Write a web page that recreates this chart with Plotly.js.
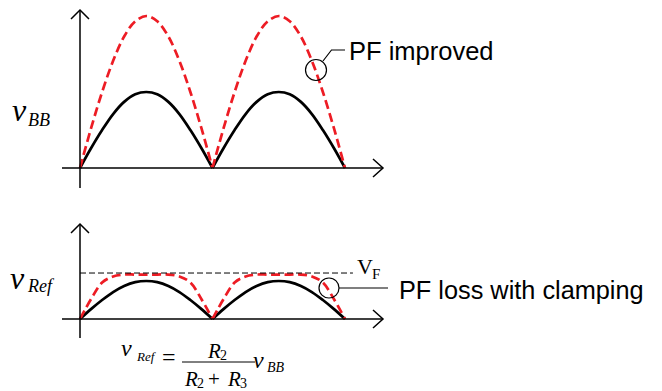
<!DOCTYPE html>
<html>
<head>
<meta charset="utf-8">
<script src="https://cdn.plot.ly/plotly-3.0.1.min.js"></script>
<style>html,body{margin:0;padding:0;background:#fff;}#chart{width:662px;height:391px;}</style>
</head>
<body>
<div id="chart"></div>
<script>
// ---- data ----
// time axis: one unit = one half-period (rectified arch)
const timePts = [0, 0.083, 0.167, 0.25, 0.333, 0.417, 0.5, 0.583, 0.667, 0.75, 0.833, 0.917, 1.0,
                 1.083, 1.167, 1.25, 1.333, 1.417, 1.5, 1.583, 1.667, 1.75, 1.833, 1.917, 2.0];
// top panel: v_BB (black) and PF-improved (red dashed)
const vbbOriginal = [0, 0.26, 0.5, 0.71, 0.87, 0.97, 1.0, 0.97, 0.87, 0.71, 0.5, 0.26, 0,
                     0.26, 0.5, 0.71, 0.87, 0.97, 1.0, 0.97, 0.87, 0.71, 0.5, 0.26, 0];
const vbbImproved = [0, 0.52, 1.0, 1.41, 1.73, 1.93, 2.0, 1.93, 1.73, 1.41, 1.0, 0.52, 0,
                     0.52, 1.0, 1.41, 1.73, 1.93, 2.0, 1.93, 1.73, 1.41, 1.0, 0.52, 0];
// bottom panel: v_Ref (black) and clamped (red dashed)
const vrefOriginal = [0, 0.26, 0.5, 0.71, 0.87, 0.97, 1.0, 0.97, 0.87, 0.71, 0.5, 0.26, 0,
                      0.26, 0.5, 0.71, 0.87, 0.97, 1.0, 0.97, 0.87, 0.71, 0.5, 0.26, 0];
const vrefClamped  = [0, 0.52, 0.96, 1.12, 1.17, 1.17, 1.17, 1.17, 1.17, 1.12, 0.96, 0.52, 0,
                      0.52, 0.96, 1.12, 1.17, 1.17, 1.17, 1.17, 1.17, 1.12, 0.96, 0.52, 0];
const vfLevel = 1.21;
const vfEnd = 2.06;

// ---- helpers ----
const W = 662, H = 391;
const PX = p => p / W;
const PY = p => 1 - p / H;
function path(pts) {
  return pts.map((p, i) => (i ? 'L' : 'M') + PX(p[0]).toFixed(5) + ',' + PY(p[1]).toFixed(5)).join(' ');
}
// split series at interior zeros so each arch keeps its sharp cusp
function arches(xs, ys) {
  const segs = []; let cx = [], cy = [];
  for (let i = 0; i < xs.length; i++) {
    cx.push(xs[i]); cy.push(ys[i]);
    if (ys[i] === 0 && i > 0) { segs.push([cx, cy]); cx = [xs[i]]; cy = [ys[i]]; }
  }
  if (cx.length > 1) segs.push([cx, cy]);
  return segs;
}
const RED = '#ED1C24';
const traces = [];
function addSeries(xs, ys, yaxis, color, dash) {
  arches(xs, ys).forEach(([sx, sy]) => traces.push({
    x: sx, y: sy, type: 'scatter', mode: 'lines', yaxis: yaxis, hoverinfo: 'skip',
    line: {color: color, width: 2.7, dash: dash, shape: 'spline', smoothing: 1}
  }));
}
addSeries(timePts, vbbOriginal, 'y', '#000', 'solid');
addSeries(timePts, vrefOriginal, 'y2', '#000', 'solid');
addSeries(timePts, vbbImproved, 'y', RED, '9px,4.5px');
addSeries(timePts, vrefClamped, 'y2', RED, '9px,4.5px');

const axLine = {color: '#000', width: 1.5};
const shapes = [
  // top axes
  {type: 'line', xref: 'paper', yref: 'paper', x0: PX(62), x1: PX(383), y0: PY(168), y1: PY(168), line: axLine},
  {type: 'path', xref: 'paper', yref: 'paper', path: path([[373,159],[383,168],[373,177]]), line: axLine},
  {type: 'line', xref: 'paper', yref: 'paper', x0: PX(80), x1: PX(80), y0: PY(10), y1: PY(188), line: axLine},
  {type: 'path', xref: 'paper', yref: 'paper', path: path([[71,19],[80,10],[89,19]]), line: axLine},
  // bottom axes
  {type: 'line', xref: 'paper', yref: 'paper', x0: PX(62), x1: PX(383), y0: PY(319), y1: PY(319), line: axLine},
  {type: 'path', xref: 'paper', yref: 'paper', path: path([[373,310],[383,319],[373,328]]), line: axLine},
  {type: 'line', xref: 'paper', yref: 'paper', x0: PX(80), x1: PX(80), y0: PY(224), y1: PY(338), line: axLine},
  {type: 'path', xref: 'paper', yref: 'paper', path: path([[71,233],[80,224],[89,233]]), line: axLine},
  // VF dashed level
  {type: 'line', xref: 'x', yref: 'y2', x0: 0, x1: vfEnd, y0: vfLevel, y1: vfLevel,
   line: {color: '#000', width: 1, dash: '6px,3px'}},
  // callout circles and leaders
  {type: 'circle', xref: 'paper', yref: 'paper', x0: PX(305.5), x1: PX(326.5), y0: PY(59.5), y1: PY(80.5), line: {color: '#000', width: 1.2}},
  {type: 'path', xref: 'paper', yref: 'paper', path: path([[323,61],[331.5,50],[345,50]]), line: {color: '#000', width: 1.2}},
  {type: 'circle', xref: 'paper', yref: 'paper', x0: PX(319), x1: PX(339), y0: PY(278), y1: PY(298), line: {color: '#000', width: 1.2}},
  {type: 'line', xref: 'paper', yref: 'paper', x0: PX(339), x1: PX(388), y0: PY(288), y1: PY(288), line: {color: '#000', width: 1.2}},
  // fraction bar
  {type: 'line', xref: 'paper', yref: 'paper', x0: PX(182), x1: PX(255), y0: PY(362), y1: PY(362), line: {color: '#000', width: 1}}
];

const SERIF = 'Liberation Serif, Times New Roman, serif';
const SANS = 'Liberation Sans, Arial, sans-serif';
function ann(text, x, y, size, family, italic, xanchor) {
  return {text: text, x: PX(x), y: PY(y), xref: 'paper', yref: 'paper', showarrow: false,
          xanchor: xanchor || 'left', yanchor: 'middle', borderpad: 0, borderwidth: 0,
          font: {family: family, size: size, color: '#000', style: italic ? 'italic' : 'normal'}};
}
const annotations = [
  ann('PF improved', 349, 50.8, 25.5, SANS),
  ann('PF loss with clamping', 399, 289.6, 25.3, SANS),
  ann('v', 12, 110, 32, SERIF, true),
  ann('BB', 28, 119.6, 18, SERIF, true),
  ann('v', 10, 278, 32, SERIF, true),
  ann('Ref', 27, 285.6, 18, SERIF, true),
  ann('V', 357, 266, 22, SERIF),
  ann('F', 372, 273.6, 15, SERIF),
  ann('v', 121, 347.6, 24, SERIF, true),
  ann('Ref', 136, 356, 13, SERIF, true),
  ann('=', 162, 357, 24, SERIF),
  ann('R', 207, 351, 21, SERIF, true),
  ann('2', 220, 355, 14, SERIF),
  ann('R', 184, 379, 21, SERIF, true),
  ann('2', 197, 383, 14, SERIF),
  ann('+', 208, 379, 21, SERIF),
  ann('R', 227, 379, 21, SERIF, true),
  ann('3', 240, 383, 14, SERIF),
  ann('v', 253, 359.6, 24, SERIF, true),
  ann('BB', 267, 367.6, 14, SERIF, true)
];

// x: pixel 80 -> 0, pixel 345 -> 2  (132.5 px per unit)
const xs = 132.5;
const layout = {
  width: W, height: H, margin: {l: 0, r: 0, t: 0, b: 0},
  paper_bgcolor: '#fff', plot_bgcolor: '#fff', showlegend: false,
  xaxis: {visible: false, range: [-80 / xs, (W - 80) / xs], domain: [0, 1]},
  // top panel: baseline at pixel 168, 76 px per unit
  yaxis: {visible: false, range: [(168 - H) / 76, 168 / 76], domain: [0, 1]},
  // bottom panel: baseline at pixel 319, 38 px per unit
  yaxis2: {visible: false, range: [(319 - H) / 38, 319 / 38], domain: [0, 1], overlaying: 'y'},
  shapes: shapes, annotations: annotations
};
Plotly.newPlot('chart', traces, layout, {staticPlot: true, displayModeBar: false});
</script>
</body>
</html>
